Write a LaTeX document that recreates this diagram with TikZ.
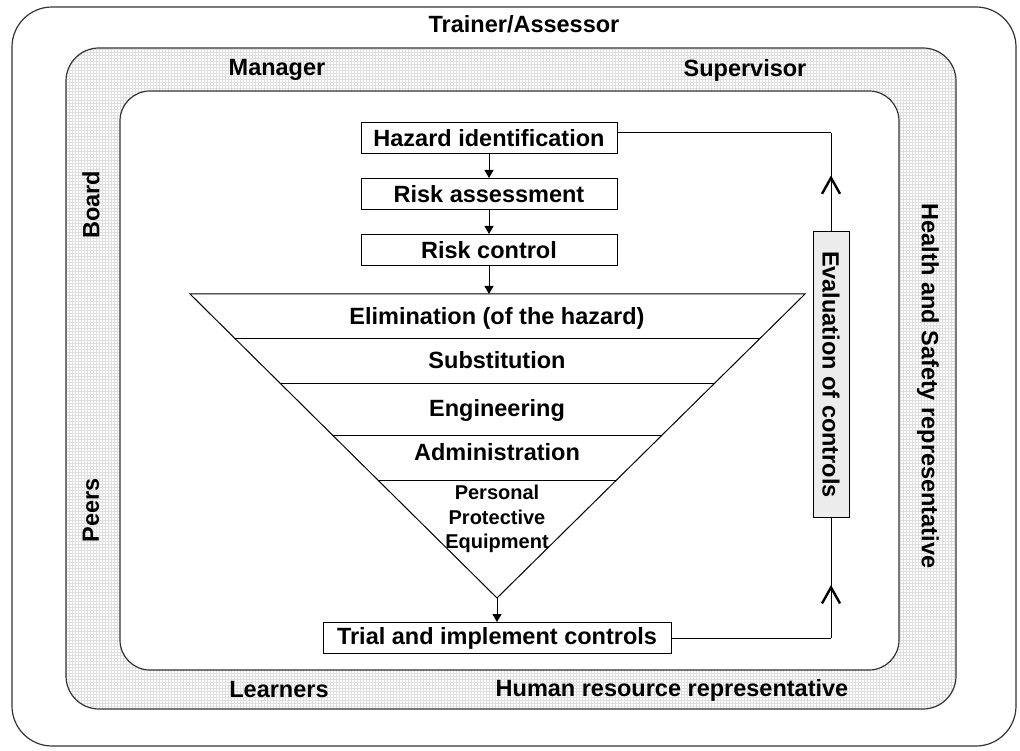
\documentclass[tikz,border=0pt]{standalone}
\usepackage{fontspec}
\setmainfont{Liberation Sans}
\usetikzlibrary{arrows.meta, calc, patterns, decorations.markings}

\begin{document}
\begin{tikzpicture}[x=1pt, y=-1pt, line width=1pt,
  every node/.style={font=\fontsize{23.5}{28}\selectfont\bfseries}]

\tikzset{frame/.style = {draw=black!80, line width=1.2pt}}
\tikzset{stepbox/.style = {draw, fill=white, minimum width=256pt, minimum height=31pt, inner sep=0pt}}
\tikzset{evalbox/.style = {draw, fill=gray!15, rotate=-90, minimum width=285pt, minimum height=36pt, inner sep=0pt}}
\tikzset{flow/.style = {-{Triangle[length=8pt,width=9pt]}}}
\tikzset{back/.style = {postaction={decorate}, decoration={markings,
  mark=at position #1 with {\arrow{Straight Barb[length=16pt,width=18pt,line width=2.4pt]}}}}}

\useasboundingbox (0,0) rectangle (1020,751);
% frames
\draw[frame, rounded corners=40pt] (12,7) rectangle (1016,746);
\draw[frame, rounded corners=33pt, pattern=grid, pattern color=gray!25] (66,48) rectangle (956,709);
\draw[frame, rounded corners=30pt, fill=white] (120,91) rectangle (899,670);
% people
\node (trainer) at (524,24) {Trainer/Assessor};
\node (manager) at (277,70) {Manager};
\node (supervisor) at (745,70) {Supervisor};
\node (learners) at (279,690) {Learners};
\node (hrrep) at (672,690) {Human resource representative};
\node[rotate=90] (board) at (91,205) {Board};
\node[rotate=90] (peers) at (91,510) {Peers};
\node[rotate=-90] (hsrep) at (928,386) {Health and Safety representative};
% steps
\node[stepbox] (haz) at (489,138) {Hazard identification};
\node[stepbox] (ra) at (489,194) {Risk assessment};
\node[stepbox] (rc) at (489,250) {Risk control};
\node[stepbox, minimum width=348pt] (trial) at (497,638) {Trial and implement controls};
\node[evalbox] (eval) at (831,374.5) {Evaluation of controls};
% hierarchy of controls
\coordinate (tl) at (190,294);
\coordinate (tr) at (805,294);
\coordinate (apex) at (497,598);
\draw (tl) -- (tr) -- (apex) -- cycle;
\foreach \t in {0.145, 0.293, 0.467, 0.615}
  \draw ($(tl)!\t!(apex)$) -- ($(tr)!\t!(apex)$);
\node (elim) at (497,318) {Elimination (of the hazard)};
\node (subst) at (497,360) {Substitution};
\node (eng) at (497,410) {Engineering};
\node (admin) at (497,452) {Administration};
\node[font=\fontsize{20}{24.5}\selectfont\bfseries, align=center] (ppe) at (497,519) {Personal\\Protective\\Equipment};
%edges
\draw[flow] (haz) -- (ra);
\draw[flow] (ra) -- (rc);
\coordinate (ttop) at (rc.south |- tl);
\draw[flow] (rc) -- (ttop);
\draw[flow] (apex) -- (trial);
% feedback loop (eval is rotated: west is its top end)
\coordinate (hzr) at ([yshift=5pt]haz.east);
\coordinate (fbt) at (eval.west |- hzr);
\coordinate (fbb) at (eval.east |- trial.east);
\draw (trial.east) -- (fbb);
\draw[back=0.44] (fbb) -- (eval.east);
\draw[back=0.57] (eval.west) -- (fbt);
\draw (fbt) -- (hzr);
\end{tikzpicture}
\end{document}
